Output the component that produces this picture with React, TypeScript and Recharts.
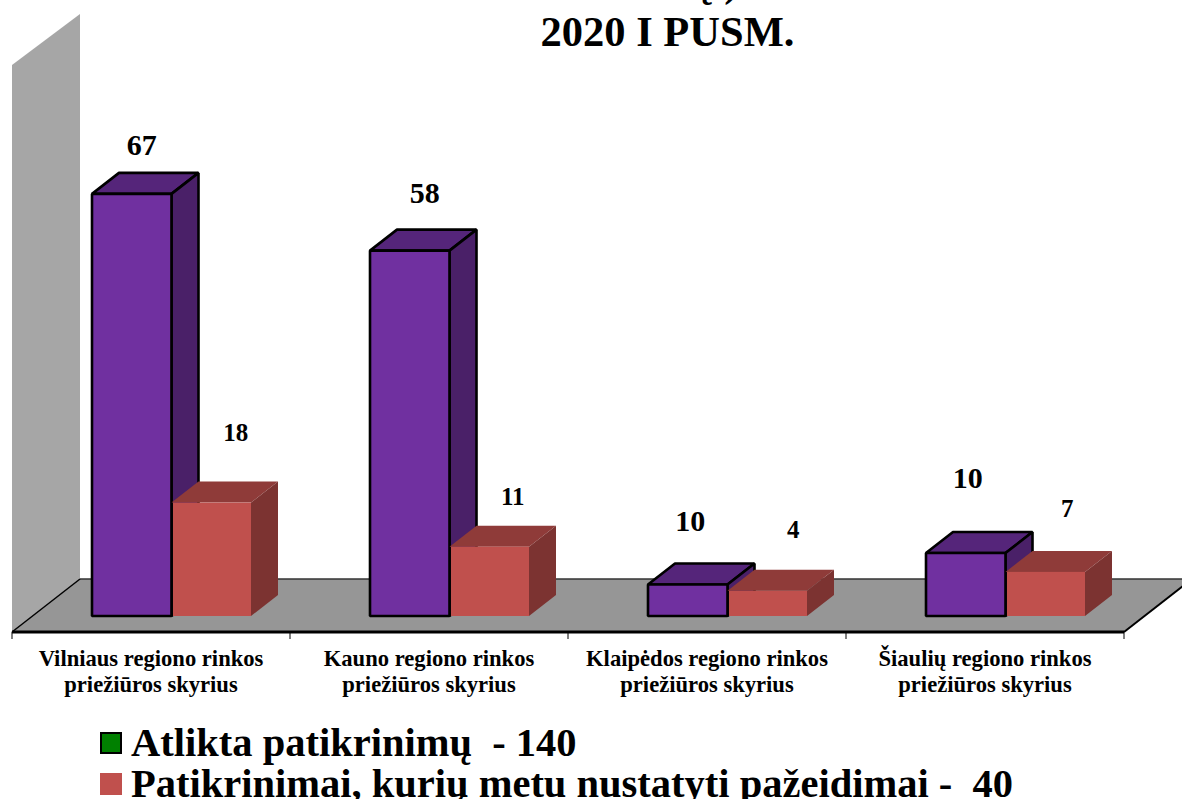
import { Bar, BarChart, LabelList, Legend, XAxis, YAxis, usePlotArea } from "recharts";

const categories = [
  "Vilniaus regiono rinkos\npriežiūros skyrius",
  "Kauno regiono rinkos\npriežiūros skyrius",
  "Klaipėdos regiono rinkos\npriežiūros skyrius",
  "Šiaulių regiono rinkos\npriežiūros skyrius",
];
// bar heights as drawn; the third purple bar is drawn at 5 but labelled 10 in the source
const checks = [67, 58, 5, 10];
const checksLabels = [67, 58, 10, 10];
const violations = [18, 11, 4, 7];
const violationsLabels = [18, 11, 4, 7];

const legendNames = ["Atlikta patikrinimų  - 140", "Patikrinimai, kurių metu nustatyti pažeidimai -  40"];
const legendSwatches = ["#008000", "#C0504D"];

// hand placed data labels, relative to the front face of each bar
const checksLabelNudge = [[10, 49], [15, 58], [2.5, 64], [2, 76]];
const violationsLabelNudge = [[24.5, 70], [23.5, 50], [26, 61], [22, 63]];

const rows = categories.map((category, i) => ({
  category,
  checks: checks[i],
  checksLabel: checksLabels[i],
  violations: violations[i],
  violationsLabel: violationsLabels[i],
}));

const FONT = '"Liberation Serif", serif';
const BAR_DX = 27;
const BAR_DY = 21;
const SHIFT_X = 20;
const SHIFT_Y = 16;
const FLOOR_DX = 68;
const FLOOR_DY = 53;

function Box3D(props: any) {
  const { x, y, width, height, front, top, side, outlined, inset = 0 } = props;
  const left = x + SHIFT_X;
  const up = y - SHIFT_Y;
  const right = left + width;
  const bottom = up + height;
  const line = outlined ? { stroke: "#000", strokeWidth: 2.6, strokeLinejoin: "bevel" as const } : {};
  return (
    <g>
      <polygon
        points={`${left},${up} ${left + BAR_DX},${up - BAR_DY} ${right + BAR_DX},${up - BAR_DY} ${right},${up}`}
        fill={top}
        {...line}
      />
      <polygon
        points={`${right},${up} ${right + BAR_DX},${up - BAR_DY} ${right + BAR_DX},${bottom - BAR_DY} ${right},${bottom}`}
        fill={side}
        {...line}
      />
      <rect x={left + inset} y={up} width={width - inset} height={height} fill={front} {...line} />
    </g>
  );
}

function Frame() {
  const plot = usePlotArea();
  if (!plot) return null;
  const { x, y, width, height } = plot;
  const bottom = y + height;
  const right = x + width;
  const step = width / categories.length;
  return (
    <g>
      <polygon
        points={`${x},${y} ${x + FLOOR_DX},${y - 51} ${x + FLOOR_DX},${bottom - FLOOR_DY} ${x},${bottom}`}
        fill="#A6A6A6"
      />
      <polygon
        points={`${x},${bottom} ${x + FLOOR_DX},${bottom - FLOOR_DY} ${right + FLOOR_DX},${bottom - FLOOR_DY} ${right},${bottom}`}
        fill="#969696"
      />
      <line x1={x + FLOOR_DX} y1={bottom - FLOOR_DY} x2={right + FLOOR_DX} y2={bottom - FLOOR_DY} stroke="#333" strokeWidth={1.5} />
      <line x1={x} y1={bottom} x2={x + FLOOR_DX} y2={bottom - FLOOR_DY} stroke="#000" strokeWidth={1.5} />
      <line x1={right} y1={bottom} x2={right + FLOOR_DX} y2={bottom - FLOOR_DY} stroke="#000" strokeWidth={2} />
      {categories.concat("").map((_, i) => (
        <line key={i} x1={x + i * step} y1={bottom} x2={x + i * step} y2={bottom + 7} stroke="#000" strokeWidth={1} />
      ))}
    </g>
  );
}

function CategoryTick({ x, y, payload }: any) {
  const [first, second] = String(payload.value).split("\n");
  return (
    <text x={x} textAnchor="middle" fontFamily={FONT} fontWeight="bold" fontSize={22.6} fill="#000">
      <tspan x={x} y={y + 26}>{first}</tspan>
      <tspan x={x} y={y + 52}>{second}</tspan>
    </text>
  );
}

function valueLabel(nudges: number[][], fontSize: number) {
  return (props: any) => {
    const { x, y, width, index, value } = props;
    const [dx, dy] = nudges[index];
    return (
      <text
        x={x + width / 2 + SHIFT_X + dx}
        y={y - SHIFT_Y - dy}
        textAnchor="middle"
        dominantBaseline="central"
        fontFamily={FONT}
        fontWeight="bold"
        fontSize={fontSize}
        fill="#000"
      >
        {value}
      </text>
    );
  };
}

function LegendRows() {
  return (
    <div style={{ fontFamily: FONT, fontWeight: "bold", fontSize: 40.5, lineHeight: "41px", color: "#000", whiteSpace: "pre", textAlign: "left" }}>
      {legendNames.map((name, i) => (
        <div key={name} style={{ display: "flex", alignItems: "center", height: 41 }}>
          <span
            style={{
              display: "inline-block",
              boxSizing: "border-box",
              width: 22,
              height: 22,
              marginRight: 9,
              background: legendSwatches[i],
              border: i === 0 ? "2.5px solid #000" : "none",
            }}
          />
          {name}
        </div>
      ))}
    </div>
  );
}

export default function App() {
  return (
    <div style={{ position: "absolute", left: 0, top: 0, width: 1182, height: 799, background: "#fff", overflow: "hidden" }}>
      <BarChart
        width={1182}
        height={799}
        data={rows}
        margin={{ top: 65, right: 58, bottom: 107, left: 12 }}
        barSize={79.5}
        barGap={0}
      >
        <Frame />
        <XAxis
          dataKey="category"
          height={60}
          interval={0}
          tickLine={false}
          axisLine={{ stroke: "#000", strokeWidth: 3 }}
          tick={<CategoryTick />}
        />
        <YAxis hide domain={[0, 90]} />
        <Bar
          dataKey="checks"
          name={legendNames[0]}
          fill="#7030A0"
          isAnimationActive={false}
          shape={<Box3D front="#7030A0" top="#55257A" side="#4A2068" outlined />}
        >
          <LabelList dataKey="checksLabel" content={valueLabel(checksLabelNudge, 30)} />
        </Bar>
        <Bar
          dataKey="violations"
          name={legendNames[1]}
          fill="#C0504D"
          isAnimationActive={false}
          shape={<Box3D front="#C0504D" top="#8F3B39" side="#7C3331" inset={1.5} />}
        >
          <LabelList dataKey="violationsLabel" content={valueLabel(violationsLabelNudge, 25)} />
        </Bar>
        {/* the line above the title is cut by the top of the picture, only these descenders show */}
        <text x={690} y={-4} fontFamily={FONT} fontWeight="bold" fontSize={42.5} fill="#000" style={{ whiteSpace: "pre" }}>
          ų )
        </text>
        <text x={667.5} y={46} textAnchor="middle" fontFamily={FONT} fontWeight="bold" fontSize={42.5} fill="#000">
          2020 I PUSM.
        </text>
        <Legend
          layout="vertical"
          align="center"
          verticalAlign="middle"
          wrapperStyle={{ left: 100, top: 722, width: 1000, height: 82 }}
          content={<LegendRows />}
        />
      </BarChart>
    </div>
  );
}
